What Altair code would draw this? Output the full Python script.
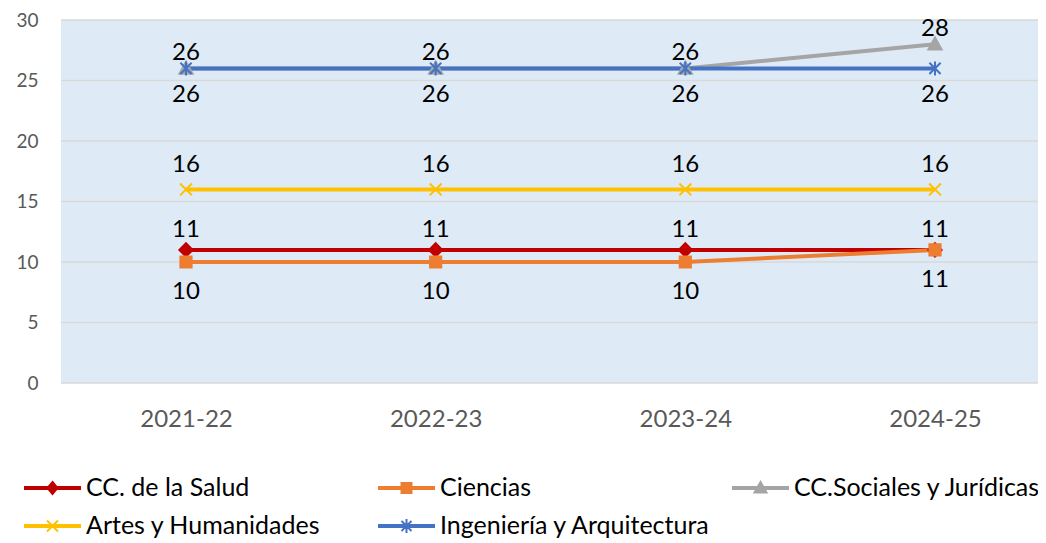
import altair as alt
import pandas as pd

years = ["2021-22", "2022-23", "2023-24", "2024-25"]
series = ["CC. de la Salud", "Ciencias", "CC.Sociales y Jurídicas",
          "Artes y Humanidades", "Ingeniería y Arquitectura"]
salud = [11, 11, 11, 11]
ciencias = [10, 10, 10, 11]
sociales = [26, 26, 26, 28]
artes = [16, 16, 16, 16]
ingenieria = [26, 26, 26, 26]
y_ticks = [0, 5, 10, 15, 20, 25, 30]

colors = ["#C00000", "#ED7D31", "#A5A5A5", "#FFC000", "#4472C4"]

plot_shapes = [
    "M0,-0.95L0.95,0L0,0.95L-0.95,0Z",
    "M-0.8,-0.8L0.8,-0.8L0.8,0.8L-0.8,0.8Z",
    "M0,-0.95L0.95,0.75L-0.95,0.75Z",
    "M-0.85,-0.85L0.85,0.85M-0.85,0.85L0.85,-0.85",
    "M-0.8,-0.8L0.8,0.8M-0.8,0.8L0.8,-0.8M0,-1L0,1",
]
line_part = "M-2.75,-0.1L2.75,-0.1L2.75,0.1L-2.75,0.1Z"
legend_shapes = [
    line_part + "M0,-0.6L0.5,0L0,0.6L-0.5,0Z",
    line_part + "M-0.5,-0.5L0.5,-0.5L0.5,0.5L-0.5,0.5Z",
    line_part + "M0,-0.6L0.6,0.45L-0.6,0.45Z",
    line_part + "M-0.55,-0.55L0.55,0.55M-0.55,0.55L0.55,-0.55",
    line_part + "M-0.5,-0.5L0.5,0.5M-0.5,0.5L0.5,-0.5M0,-0.7L0,0.7",
]
label_dy = [-20, 30, -15, -24, 27]

rows = []
for s, vals in zip(series, [salud, ciencias, sociales, artes, ingenieria]):
    for yr, v in zip(years, vals):
        rows.append({"serie": s, "curso": yr, "valor": v})
df = pd.DataFrame(rows)
grid_df = pd.DataFrame({"valor": y_ticks})
legend_df = pd.DataFrame({
    "serie": series,
    "col": [i % 3 for i in range(len(series))],
    "fila": [i // 3 for i in range(len(series))],
})

FONT = "Lato"
W, H = 977, 363

x_enc = alt.X(
    "curso:N", sort=years,
    scale=alt.Scale(type="point", domain=years, range=[125, 874], padding=0),
    axis=alt.Axis(title=None, labelAngle=0, domain=False, ticks=False, tickSize=0,
                  grid=False, labelPadding=24, labelFont=FONT, labelFontSize=24,
                  labelColor="#595959"),
)
y_enc = alt.Y(
    "valor:Q", scale=alt.Scale(domain=[0, 30], nice=False, zero=True),
    axis=alt.Axis(values=y_ticks, title=None, domain=False, ticks=False, tickSize=0,
                  grid=False, labelPadding=23,
                  labelFont=FONT, labelFontSize=19, labelColor="#595959"),
)

grid = alt.Chart(grid_df).mark_rule(color="#D9D9D9", strokeWidth=1.5).encode(
    y=y_enc, x=alt.value(0), x2=alt.value(W)
)

base = alt.Chart(df)

lines = base.mark_line(strokeWidth=4, strokeJoin="round").encode(
    x=x_enc, y=y_enc,
    color=alt.Color("serie:N", sort=series,
                    scale=alt.Scale(domain=series, range=colors), legend=None),
    order=alt.Order("curso:N"),
)

main_layers = [grid, lines]
for s, c, shp in zip(series, colors, plot_shapes):
    main_layers.append(
        base.transform_filter(alt.datum.serie == s)
        .mark_point(shape=shp, filled=True, fill=c, stroke=c, strokeWidth=2,
                    size=196, opacity=1)
        .encode(x=x_enc, y=y_enc)
    )
for s, d in zip(series, label_dy):
    main_layers.append(
        base.transform_filter(alt.datum.serie == s)
        .mark_text(dy=d, font=FONT, fontSize=24, color="#000000", baseline="middle")
        .encode(x=x_enc, y=y_enc, text="valor:Q")
    )
main = alt.layer(*main_layers)

# legend drawn below the plot, through its own scales
lx = alt.X("col:Q", scale=alt.Scale(domain=[0, 2], range=[-8.5, 699.5]), axis=None)
ly = alt.Y("fila:Q", scale=alt.Scale(domain=[0, 1], range=[468, 506]), axis=None)
lbase = alt.Chart(legend_df)
leg_sym = lbase.mark_point(filled=True, opacity=1, strokeWidth=2, size=400).encode(
    x=lx, y=ly,
    shape=alt.Shape("serie:N", scale=alt.Scale(domain=series, range=legend_shapes),
                    legend=None),
    fill=alt.Fill("serie:N", scale=alt.Scale(domain=series, range=colors), legend=None),
    stroke=alt.Stroke("serie:N", scale=alt.Scale(domain=series, range=colors),
                      legend=None),
)
leg_txt = lbase.mark_text(align="left", baseline="middle", dx=33.5, font=FONT,
                          fontSize=25, color="#000000").encode(
    x=lx, y=ly, text="serie:N"
)
legend = alt.layer(leg_sym, leg_txt)

chart = alt.layer(main, legend).resolve_scale(x="independent", y="independent").properties(
    width=W, height=H,
    padding={"left": 53, "top": 12, "right": 0, "bottom": 157},
    autosize=alt.AutoSizeParams(type="none"),
    background="white",
).configure_view(stroke=None, fill="#DEEBF7")

chart.save("out.html", embed_options={"renderer": "svg", "actions": False})
